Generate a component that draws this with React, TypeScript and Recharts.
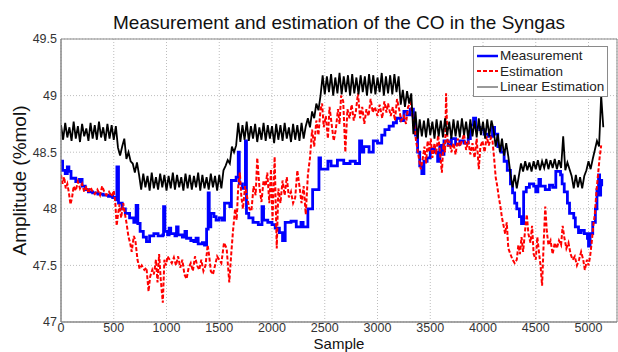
import { LineChart, Line, XAxis, YAxis, CartesianGrid, Legend, ReferenceArea } from "recharts";

const FONT = '"Liberation Sans", Arial, Helvetica, sans-serif';

const xTicks = [0, 500, 1000, 1500, 2000, 2500, 3000, 3500, 4000, 4500, 5000];
const yTicks = [47, 47.5, 48, 48.5, 49, 49.5];
const xMax = 5270;

// Measurement: [sample, %mol], drawn as steps
const measurement = [
	[0, 48.42], [15, 48.34], [40, 48.31], [60, 48.37], [75, 48.33], [95, 48.27], [140, 48.24], [175, 48.26],
	[200, 48.2], [230, 48.17], [260, 48.15], [300, 48.14], [350, 48.13], [400, 48.12], [450, 48.11], [490, 48.1],
	[525, 48.08], [530, 48.37], [545, 48.05], [580, 48.0], [610, 47.96], [650, 47.92], [690, 47.88], [712, 48.03],
	[728, 47.87], [750, 47.8], [780, 47.75], [810, 47.71], [840, 47.76], [880, 47.78], [920, 47.76], [965, 47.77],
	[972, 48.02], [985, 47.8], [1010, 47.77], [1025, 47.83], [1040, 47.78], [1080, 47.76], [1095, 47.84], [1110, 47.77],
	[1150, 47.75], [1175, 47.8], [1190, 47.74], [1230, 47.72], [1260, 47.71], [1280, 47.74], [1300, 47.69], [1340, 47.7],
	[1360, 47.68], [1380, 47.82], [1395, 48.14], [1405, 47.84], [1420, 47.96], [1450, 47.93], [1470, 47.9], [1500, 47.92],
	[1530, 47.9], [1550, 48.05], [1600, 48.02], [1615, 48.25], [1660, 48.28], [1680, 48.5], [1690, 48.22], [1720, 48.18],
	[1748, 48.6], [1758, 47.96], [1780, 47.92], [1820, 47.88], [1870, 47.86], [1905, 48.02], [1920, 47.9], [1960, 47.88],
	[2000, 47.86], [2030, 47.83], [2070, 47.79], [2100, 47.72], [2125, 47.88], [2180, 47.89], [2230, 47.84], [2275, 47.88],
	[2295, 47.84], [2340, 48.0], [2385, 48.17], [2445, 48.45], [2460, 48.35], [2530, 48.42], [2560, 48.38], [2620, 48.43],
	[2680, 48.4], [2740, 48.42], [2790, 48.4], [2830, 48.6], [2850, 48.5], [2870, 48.55], [2920, 48.5], [2960, 48.6],
	[3000, 48.58], [3040, 48.65], [3070, 48.7], [3110, 48.73], [3150, 48.76], [3180, 48.8], [3220, 48.78], [3250, 48.86],
	[3280, 48.83], [3310, 48.88], [3340, 48.78], [3360, 48.65], [3380, 48.5], [3400, 48.38], [3420, 48.31], [3440, 48.42],
	[3470, 48.45], [3500, 48.53], [3540, 48.5], [3570, 48.42], [3590, 48.56], [3610, 48.48], [3630, 48.6], [3670, 48.56],
	[3700, 48.62], [3740, 48.57], [3780, 48.6], [3820, 48.58], [3860, 48.62], [3880, 48.74], [3910, 48.8], [3930, 48.72],
	[3970, 48.7], [4010, 48.66], [4050, 48.64], [4090, 48.72], [4110, 48.66], [4140, 48.55], [4170, 48.5], [4200, 48.42],
	[4230, 48.34], [4260, 48.22], [4280, 48.14], [4300, 48.05], [4320, 48.0], [4345, 47.93], [4365, 47.87], [4385, 48.15],
	[4410, 48.19], [4440, 48.22], [4480, 48.2], [4500, 48.15], [4520, 48.2], [4530, 48.26], [4545, 48.2], [4590, 48.17],
	[4630, 48.21], [4660, 48.19], [4690, 48.33], [4735, 48.3], [4750, 48.22], [4770, 48.15], [4800, 48.05], [4820, 47.96],
	[4860, 47.92], [4875, 47.84], [4905, 47.79], [4930, 47.81], [4960, 47.78], [4990, 47.74], [5000, 47.67], [5015, 47.78],
	[5040, 47.88], [5065, 48.0], [5080, 48.17], [5095, 48.3], [5105, 48.12], [5115, 48.25], [5125, 48.2],
];

// Estimation: [sample, %mol]
const estimation = [
	[0, 48.3], [15, 48.22], [30, 48.28], [45, 48.18], [60, 48.22], [75, 48.14], [90, 48.04], [105, 48.1],
	[120, 48.2], [140, 48.16], [160, 48.24], [180, 48.18], [200, 48.22], [220, 48.15], [240, 48.2], [260, 48.14],
	[280, 48.19], [300, 48.15], [320, 48.13], [345, 48.17], [370, 48.12], [390, 48.2], [410, 48.15], [430, 48.12],
	[455, 48.15], [480, 48.11], [500, 48.16], [515, 48.05], [528, 47.85], [540, 47.95], [555, 48.04], [570, 47.92],
	[590, 48.05], [605, 47.96], [620, 47.88], [640, 47.75], [655, 47.7], [670, 47.62], [690, 47.76], [705, 47.72],
	[725, 47.55], [745, 47.47], [765, 47.5], [790, 47.46], [810, 47.48], [830, 47.27], [845, 47.4], [865, 47.46],
	[880, 47.42], [900, 47.55], [915, 47.35], [930, 47.6], [945, 47.38], [965, 47.17], [980, 47.55], [995, 47.5],
	[1010, 47.58], [1030, 47.55], [1050, 47.52], [1070, 47.57], [1090, 47.5], [1110, 47.58], [1130, 47.48], [1150, 47.55],
	[1170, 47.42], [1190, 47.38], [1210, 47.48], [1230, 47.52], [1250, 47.45], [1270, 47.58], [1290, 47.5], [1310, 47.46],
	[1330, 47.55], [1350, 47.45], [1370, 47.5], [1390, 47.68], [1405, 47.58], [1420, 47.45], [1440, 47.42], [1460, 47.5],
	[1480, 47.58], [1500, 47.55], [1520, 47.52], [1545, 47.7], [1570, 47.65], [1595, 47.35], [1615, 47.62], [1630, 47.8],
	[1650, 48.0], [1665, 47.9], [1680, 48.2], [1695, 48.32], [1710, 48.1], [1725, 48.0], [1745, 48.2], [1765, 48.1],
	[1785, 48.0], [1805, 47.98], [1825, 48.2], [1845, 48.12], [1860, 48.45], [1880, 48.2], [1900, 48.06], [1920, 48.25],
	[1940, 48.2], [1955, 48.32], [1975, 48.05], [1990, 48.35], [2005, 47.9], [2025, 48.46], [2045, 47.65], [2060, 48.18],
	[2080, 48.05], [2100, 48.25], [2120, 48.12], [2140, 48.28], [2160, 48.1], [2180, 48.15], [2200, 48.05], [2220, 48.1],
	[2240, 48.34], [2260, 48.2], [2280, 48.05], [2300, 48.2], [2320, 47.95], [2340, 48.3], [2360, 48.45], [2380, 48.7],
	[2400, 48.55], [2420, 48.78], [2440, 48.65], [2460, 48.88], [2475, 48.93], [2490, 48.72], [2510, 48.82], [2530, 48.62],
	[2545, 48.9], [2565, 48.75], [2585, 48.6], [2605, 48.7], [2625, 48.88], [2640, 48.75], [2655, 49.0], [2675, 48.95],
	[2695, 48.5], [2715, 48.88], [2735, 48.8], [2755, 48.92], [2775, 48.78], [2795, 48.86], [2815, 49.02], [2835, 48.8],
	[2855, 48.9], [2875, 48.75], [2895, 48.88], [2915, 48.82], [2935, 48.97], [2955, 48.85], [2975, 48.9], [3000, 48.82],
	[3020, 48.92], [3045, 48.8], [3065, 48.95], [3085, 48.85], [3100, 48.93], [3125, 48.82], [3145, 48.9], [3165, 48.78],
	[3185, 48.97], [3205, 48.88], [3225, 48.78], [3250, 48.82], [3270, 48.75], [3290, 48.9], [3315, 48.94], [3335, 48.8],
	[3350, 48.74], [3365, 48.6], [3380, 48.52], [3395, 48.43], [3410, 48.35], [3425, 48.42], [3445, 48.55], [3460, 48.4],
	[3475, 48.6], [3490, 48.5], [3505, 48.62], [3520, 48.45], [3540, 48.58], [3555, 48.48], [3575, 48.65], [3590, 48.52],
	[3610, 48.32], [3625, 48.58], [3640, 48.5], [3650, 49.02], [3665, 48.55], [3680, 48.6], [3700, 48.5], [3720, 48.58],
	[3740, 48.48], [3760, 48.62], [3780, 48.55], [3800, 48.6], [3820, 48.66], [3840, 48.52], [3860, 48.6], [3880, 48.48],
	[3900, 48.58], [3920, 48.45], [3940, 48.62], [3960, 48.35], [3975, 48.55], [3995, 48.6], [4015, 48.5], [4035, 48.64],
	[4055, 48.56], [4075, 48.63], [4090, 48.6], [4105, 48.45], [4120, 48.28], [4135, 48.2], [4150, 48.1], [4165, 48.02],
	[4180, 47.92], [4195, 47.85], [4210, 47.78], [4225, 47.88], [4240, 47.65], [4260, 47.6], [4280, 47.55], [4300, 47.52],
	[4320, 47.55], [4335, 47.68], [4350, 47.6], [4365, 47.75], [4380, 47.62], [4400, 47.82], [4415, 47.95], [4430, 47.78],
	[4450, 47.7], [4465, 47.85], [4480, 47.6], [4500, 47.55], [4515, 47.75], [4530, 47.62], [4545, 47.5], [4560, 47.32],
	[4575, 47.7], [4590, 48.02], [4605, 47.8], [4620, 47.68], [4640, 47.72], [4660, 47.6], [4680, 47.7], [4700, 47.65],
	[4720, 47.72], [4740, 47.68], [4755, 47.85], [4770, 47.75], [4790, 47.65], [4810, 47.7], [4830, 47.6], [4850, 47.55],
	[4870, 47.58], [4890, 47.5], [4910, 47.55], [4930, 47.62], [4950, 47.55], [4965, 47.46], [4985, 47.55], [5000, 47.5],
	[5015, 47.58], [5030, 47.7], [5045, 47.85], [5060, 47.95], [5075, 48.15], [5090, 48.3], [5105, 48.45], [5120, 48.56],
];

// Linear estimation: one value every 20 samples, starting at sample 0
const linearStep = 20;
const linearEstimation = [
	// 0 - 520
	48.74, 48.61, 48.76, 48.63, 48.72, 48.6, 48.77, 48.62, 48.73, 48.59, 48.75, 48.64, 48.71, 48.6,
	48.76, 48.62, 48.74, 48.61, 48.77, 48.63, 48.72, 48.6, 48.75, 48.62, 48.74, 48.61, 48.73,
	// 540 - 720
	48.54, 48.47, 48.55, 48.62, 48.44, 48.5, 48.42, 48.4, 48.32, 48.41,
	// 740 - 1520
	48.3, 48.17, 48.31, 48.19, 48.29, 48.16, 48.32, 48.18, 48.28, 48.17,
	48.31, 48.19, 48.3, 48.16, 48.29, 48.18, 48.32, 48.17, 48.3, 48.19,
	48.28, 48.16, 48.31, 48.18, 48.3, 48.17, 48.29, 48.19, 48.32, 48.16,
	48.3, 48.18, 48.28, 48.17, 48.31, 48.19, 48.29, 48.16, 48.3, 48.18,
	// 1540 - 1660
	48.34, 48.38, 48.43, 48.4, 48.55, 48.5, 48.56,
	// 1680 - 2320
	48.76, 48.59, 48.74, 48.61, 48.77, 48.6, 48.73, 48.62, 48.75, 48.59,
	48.72, 48.61, 48.76, 48.6, 48.74, 48.62, 48.73, 48.58, 48.75, 48.61,
	48.74, 48.6, 48.76, 48.62, 48.72, 48.59, 48.75, 48.61, 48.74, 48.6,
	48.76, 48.62, 48.73,
	// 2340 - 2460
	48.8, 48.72, 48.86, 48.8, 48.93, 48.87, 49.0,
	// 2480 - 3200
	49.18, 49.01, 49.17, 49.03, 49.19, 49.0, 49.16, 49.02, 49.2, 49.01,
	49.17, 49.03, 49.18, 49.0, 49.19, 49.02, 49.16, 49.01, 49.18, 49.03,
	49.17, 49.0, 49.19, 49.02, 49.18, 49.01, 49.16, 49.03, 49.2, 49.0,
	49.17, 49.02, 49.18, 49.01, 49.19, 49.03, 49.17,
	// 3220 - 3360
	48.92, 49.05, 48.9, 49.04, 48.93, 49.02, 48.66, 48.86,
	// 3380 - 4080
	48.62, 48.79, 48.64, 48.78, 48.63, 48.8, 48.65, 48.77, 48.62, 48.79,
	48.64, 48.78, 48.63, 48.8, 48.65, 48.77, 48.62, 48.79, 48.64, 48.78,
	48.63, 48.8, 48.65, 48.77, 48.62, 48.79, 48.64, 48.78, 48.63, 48.8,
	48.65, 48.77, 48.62, 48.79, 48.64, 48.78,
	// 4100 - 4340
	48.7, 48.55, 48.66, 48.5, 48.62, 48.47, 48.58, 48.46, 48.31, 48.19, 48.3, 48.18, 48.29,
	// 4360 - 4740
	48.4, 48.33, 48.42, 48.34, 48.41, 48.33, 48.42, 48.35, 48.43, 48.34,
	48.42, 48.36, 48.44, 48.35, 48.43, 48.36, 48.44, 48.35, 48.43, 48.36,
	// 4760 - 5140
	48.64, 48.34, 48.41, 48.35, 48.29, 48.18, 48.3, 48.19, 48.28, 48.18, 48.29,
	48.34, 48.42, 48.35, 48.44, 48.52, 48.6, 48.55, 49.0, 48.72,
];

const measData = measurement.map(([s, v]) => ({ s, v }));
const estData = estimation.map(([s, v]) => ({ s, v }));
const linData = linearEstimation.map((v, i) => ({ s: i * linearStep, v }));

const legendItems = [
	{ label: "Measurement", color: "#0000ff", width: 2.5, dash: undefined },
	{ label: "Estimation", color: "#ff0000", width: 2, dash: "4 2" },
	{ label: "Linear Estimation", color: "#000000", width: 0.8, dash: undefined },
];

function LegendBox() {
	return (
		<div
			style={{
				border: "1px solid #8a8a8a",
				background: "#fff",
				padding: "1px 3px 1px 2px",
				fontFamily: FONT,
				fontSize: 13.5,
				lineHeight: "15.5px",
				color: "#222",
				whiteSpace: "nowrap",
			}}
		>
			{legendItems.map((it) => (
				<div key={it.label} style={{ display: "flex", alignItems: "center" }}>
					<svg width={23} height={10}>
						<line x1={1} x2={22} y1={5} y2={5} stroke={it.color} strokeWidth={it.width} strokeDasharray={it.dash} />
					</svg>
					<span style={{ marginLeft: 1 }}>{it.label}</span>
				</div>
			))}
		</div>
	);
}

export default function App() {
	return (
		<div style={{ position: "absolute", left: 0, top: 0, width: 618, height: 352, overflow: "hidden", background: "#fff", fontFamily: FONT }}>
			<div
				style={{
					position: "absolute",
					left: 61,
					top: 13,
					width: 556,
					textAlign: "center",
					fontSize: 19,
					lineHeight: "19px",
					color: "#111",
					whiteSpace: "nowrap",
				}}
			>
				Measurement and estimation of the CO in the Syngas
			</div>
			<LineChart width={618} height={352} margin={{ top: 39, right: 1, bottom: 0, left: 0 }}>
				<CartesianGrid stroke="#bdbdbd" strokeDasharray="1 2" />
				<XAxis
					dataKey="s"
					type="number"
					domain={[0, xMax]}
					ticks={xTicks}
					allowDataOverflow
					height={30}
					tickLine={false}
					tickSize={1}
					tickMargin={0}
					axisLine={{ stroke: "#888" }}
					tick={{ fontSize: 12.5, fill: "#333", fontFamily: FONT }}
					label={{ value: "Sample", position: "insideBottom", offset: 3.5, fontSize: 15, fill: "#111", fontFamily: FONT }}
				/>
				<YAxis
					type="number"
					domain={[47, 49.5]}
					ticks={yTicks}
					allowDataOverflow
					width={61}
					tickLine={false}
					tickSize={4}
					tickMargin={0}
					axisLine={{ stroke: "#888" }}
					tick={{ fontSize: 12.5, fill: "#333", fontFamily: FONT }}
					label={{
						value: "Amplitude (%mol)",
						angle: -90,
						position: "insideLeft",
						offset: 19,
						fontSize: 19,
						fill: "#111",
						fontFamily: FONT,
						style: { textAnchor: "middle" },
					}}
				/>
				<Line data={measData} dataKey="v" type="stepAfter" stroke="#0000ff" strokeWidth={2.8} dot={false} activeDot={false} isAnimationActive={false} />
				<Line data={estData} dataKey="v" type="linear" stroke="#ff0000" strokeWidth={2} strokeDasharray="4 2" dot={false} activeDot={false} isAnimationActive={false} />
				<Line data={linData} dataKey="v" type="linear" stroke="#000000" strokeWidth={1.8} dot={false} activeDot={false} isAnimationActive={false} />
				<ReferenceArea x1={0} x2={xMax} y1={47} y2={49.5} fill="none" stroke="#8a8a8a" strokeWidth={1} ifOverflow="visible" />
				<Legend
					layout="vertical"
					align="center"
					verticalAlign="middle"
					content={<LegendBox />}
					wrapperStyle={{ left: 473, top: 46, width: "auto", height: "auto" }}
				/>
			</LineChart>
		</div>
	);
}
